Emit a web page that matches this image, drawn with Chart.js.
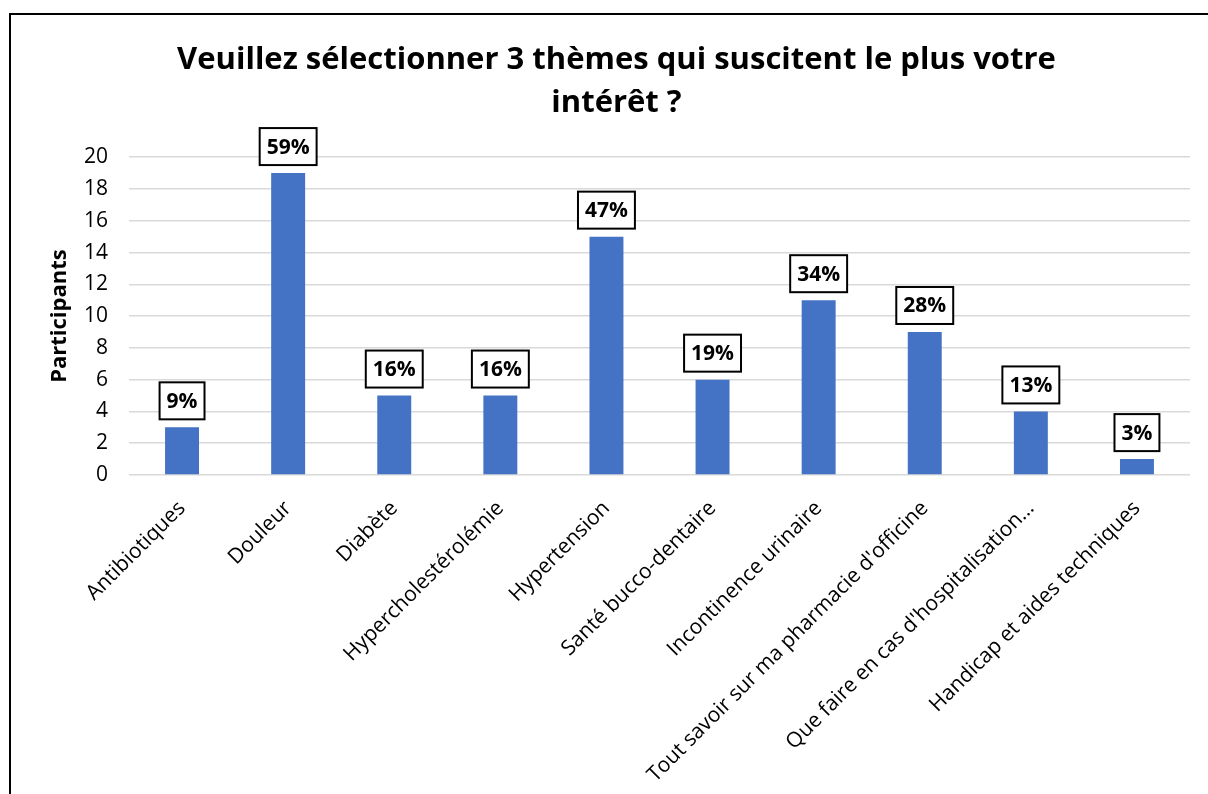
<!DOCTYPE html>
<html>
<head>
<meta charset="utf-8">
<script src="https://cdn.jsdelivr.net/npm/chart.js@4/dist/chart.umd.min.js"></script>
<style>
    body { margin: 0; background: #fff; }
    #wrap { width: 1208px; height: 794px; }
</style>
</head>
<body>
<div id="wrap"><canvas id="barChart" width="1208" height="794"></canvas></div>
<script>
// 데이터
const themes = ['Antibiotiques', 'Douleur', 'Diabète', 'Hypercholestérolémie', 'Hypertension',
    'Santé bucco-dentaire', 'Incontinence urinaire', "Tout savoir sur ma pharmacie d'officine",
    "Que faire en cas d'hospitalisation…", 'Handicap et aides techniques'];
const participants = [3, 19, 5, 5, 15, 6, 11, 9, 4, 1];
const percents = [9, 59, 16, 16, 47, 19, 34, 28, 13, 3];
const yTicks = [0, 2, 4, 6, 8, 10, 12, 14, 16, 18, 20];

const FONT = 'Open Sans';

// 바깥 테두리 + 박스 라벨
const boxLabels = {
    id: 'boxLabels',
    beforeDraw(chart) {
        const ctx = chart.ctx;
        ctx.save();
        ctx.strokeStyle = '#000';
        ctx.lineWidth = 2;
        ctx.strokeRect(10, 14, 1400, 1000);
        ctx.restore();
    },
    afterDatasetsDraw(chart) {
        const ctx = chart.ctx;
        const meta = chart.getDatasetMeta(0);
        ctx.save();
        ctx.font = 'bold 21px ' + FONT;
        meta.data.forEach(function (bar, i) {
            const text = percents[i] + '%';
            const w = ctx.measureText(text).width + 14;
            const h = 37;
            const x = bar.x - w / 2;
            const y = bar.y - 8 - h;
            ctx.fillStyle = '#fff';
            ctx.fillRect(x, y, w, h);
            ctx.lineWidth = 2;
            ctx.strokeStyle = '#000';
            ctx.strokeRect(x, y, w, h);
            ctx.fillStyle = '#000';
            ctx.textAlign = 'center';
            ctx.textBaseline = 'middle';
            ctx.fillText(text, bar.x, y + h / 2 + 1);
        });
        ctx.restore();
    }
};

new Chart(document.getElementById('barChart'), {
    type: 'bar',
    plugins: [boxLabels],
    data: {
        labels: themes,
        datasets: [{
            label: 'Participants',
            data: participants,
            backgroundColor: '#4472C4',
            categoryPercentage: 1,
            barPercentage: 0.32
        }]
    },
    options: {
        responsive: false,
        animation: false,
        layout: {
            padding: { left: 43, right: 18, top: 0, bottom: 0 }
        },
        plugins: {
            legend: { display: false },
            tooltip: { enabled: false },
            title: {
                display: true,
                text: ['Veuillez sélectionner 3 thèmes qui suscitent le plus votre', 'intérêt ?'],
                color: '#000',
                font: { family: FONT, size: 31, weight: 'bold', lineHeight: 1.39 },
                padding: { top: 39, bottom: 32 }
            }
        },
        scales: {
            x: {
                grid: { display: false },
                border: { display: false },
                ticks: {
                    color: '#000',
                    font: { family: FONT, size: 21 },
                    maxRotation: 45,
                    minRotation: 45,
                    autoSkip: false,
                    padding: 13
                },
                afterFit: function (scale) {
                    scale.height = 319;
                }
            },
            y: {
                min: 0,
                max: 20,
                afterBuildTicks: function (scale) {
                    scale.ticks = yTicks.map(function (v) { return { value: v }; });
                },
                grid: {
                    drawTicks: false,
                    color: '#d9d9d9',
                    lineWidth: 1.5
                },
                border: { display: false },
                ticks: {
                    color: '#000',
                    font: { family: FONT, size: 21 },
                    padding: 21
                },
                title: {
                    display: true,
                    text: 'Participants',
                    color: '#000',
                    font: { family: FONT, size: 22, weight: 'bold' },
                    padding: { top: 4, bottom: 0 }
                },
                afterFit: function (scale) {
                    scale.width = 86;
                }
            }
        }
    }
});
</script>
</body>
</html>
